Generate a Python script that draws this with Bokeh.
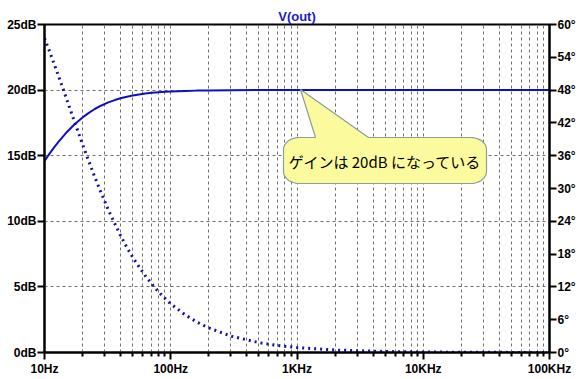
from bokeh.plotting import figure
from bokeh.models import (Range1d, LinearAxis, FixedTicker, ColumnDataSource)
from bokeh.core.properties import value
from bokeh.embed import file_html
from bokeh.resources import INLINE
import numpy as np

# ---- data ----
freq_hz = [10, 11, 12, 13, 14, 15, 17, 20, 22, 25, 28, 32, 36, 40, 45, 50, 56, 63,
           71, 80, 90, 100, 130, 160, 200, 300, 500, 700, 1000, 2000, 5000, 10000,
           30000, 100000]
gain_db = [14.60, 15.18, 15.67, 16.09, 16.46, 16.79, 17.32, 17.91, 18.21, 18.56, 18.81,
           19.06, 19.24, 19.38, 19.50, 19.59, 19.67, 19.74, 19.79, 19.84, 19.87, 19.89,
           19.94, 19.96, 19.97, 19.99, 20.0, 20.0, 20.0, 20.0, 20.0, 20.0, 20.0, 20.0]
phase_deg = [57.5, 55.0, 52.6, 50.4, 48.3, 46.3, 42.7, 38.1, 35.5, 32.1, 29.3, 26.1,
             23.6, 21.4, 19.2, 17.4, 15.7, 14.0, 12.5, 11.1, 9.9, 8.9, 6.9, 5.6, 4.5,
             3.0, 1.8, 1.28, 0.9, 0.45, 0.18, 0.09, 0.03, 0.01]

x_major = [10, 100, 1000, 10000, 100000]
x_labels = ["10Hz", "100Hz", "1KHz", "10KHz", "100KHz"]
y_left_ticks = [0, 5, 10, 15, 20, 25]
y_right_ticks = [0, 6, 12, 18, 24, 30, 36, 42, 48, 54, 60]
title_text = "V(out)"
note_text = "ゲインは 20dB になっている"

# ---- layout ----
W, H = 585, 379
L, R, T, B = 44, 36, 24, 27
FW, FH = W - L - R, H - T - B

p = figure(width=W, height=H, x_axis_type="log", x_range=Range1d(10, 100000),
           y_range=Range1d(0, 25), output_backend="svg", toolbar_location=None,
           min_border_left=L, min_border_right=R, min_border_top=T, min_border_bottom=B,
           background_fill_color="white", border_fill_color="white")
p.extra_y_ranges = {"deg": Range1d(0, 60)}

p.title.text = title_text
p.title.align = "center"
p.title.text_color = "#1a1ad0"
p.title.text_font = "Liberation Sans"
p.title.text_font_size = "13px"
p.title.text_font_style = "bold"
p.title.standoff = 2

p.outline_line_color = "black"
p.outline_line_width = 2

minor = [m * d for d in [10, 100, 1000, 10000] for m in range(2, 10)]
xa = p.xaxis[0]
xa.ticker = FixedTicker(ticks=x_major, minor_ticks=minor)
xa.major_label_overrides = {v: s for v, s in zip(x_major, x_labels)}
ya = p.yaxis[0]
ya.ticker = FixedTicker(ticks=y_left_ticks, minor_ticks=[])
ya.major_label_overrides = {v: f"{v}dB" for v in y_left_ticks}

ra = LinearAxis(y_range_name="deg", ticker=FixedTicker(ticks=y_right_ticks, minor_ticks=[]))
ra.major_label_overrides = {v: f"{v}°" for v in y_right_ticks}
p.add_layout(ra, "right")

for ax in [xa, ya, ra]:
    ax.axis_line_width = 2
    ax.axis_line_color = "black"
    ax.major_tick_line_color = "black"
    ax.major_tick_line_width = 2
    ax.major_tick_in = 0
    ax.major_tick_out = 7
    ax.minor_tick_line_color = "black"
    ax.minor_tick_line_width = 2
    ax.minor_tick_in = 0
    ax.minor_tick_out = 4
    ax.major_label_text_font = "Liberation Sans"
    ax.major_label_text_font_size = "12px"
    ax.major_label_text_font_style = "bold"
    ax.major_label_text_color = "black"
    ax.major_label_standoff = 1
xa.major_label_standoff = 2

p.xgrid.grid_line_color = "#707070"
p.xgrid.grid_line_dash = "3 3"
p.xgrid.grid_line_width = 1
p.xgrid.minor_grid_line_color = "#707070"
p.xgrid.minor_grid_line_dash = "3 3"
p.xgrid.minor_grid_line_width = 1
p.ygrid.grid_line_color = "#707070"
p.ygrid.grid_line_dash = "3 3"
p.ygrid.grid_line_width = 1

src = ColumnDataSource(dict(f=freq_hz, g=gain_db, ph=phase_deg))
p.line("f", "ph", source=src, y_range_name="deg", line_color="#1010a8",
       line_width=3, line_dash="2 4")
p.line("f", "g", source=src, line_color="#1010c0", line_width=2)

# ---- callout (defined in pixel space, converted to data coordinates) ----
def px2x(px):
    return 10 ** (1 + 4 * (px - L) / FW)

def py2y(py):
    return 25 * (T + FH - py) / FH

x0, x1, y0, y1 = 283, 486, 137, 183
rx, ry = 16, 12
apex = (300, 89)
b1, b2 = 315, 368
pts = []
def arc(cx, cy, a0, a1, n=10):
    out = []
    for a in np.linspace(a0, a1, n):
        out.append((cx + rx * np.cos(a), cy - ry * np.sin(a)))
    return out
pts += arc(x0 + rx, y0 + ry, np.pi, np.pi / 2)
pts += [(b1, y0), apex, (b2, y0)]
pts += arc(x1 - rx, y0 + ry, np.pi / 2, 0)
pts += arc(x1 - rx, y1 - ry, 0, -np.pi / 2)
pts += arc(x0 + rx, y1 - ry, -np.pi / 2, -np.pi)
cx_ = [px2x(a) for a, b in pts]
cy_ = [py2y(b) for a, b in pts]
p.patch(cx_, cy_, fill_color="#fbfb9e", line_color="#8a9e9a", line_width=1.2)
p.text(x=[px2x((x0 + x1) / 2)], y=[py2y((y0 + y1) / 2 + 1)], text=[note_text],
       text_font=value("Noto Sans CJK JP"), text_font_size="15px", text_color="black",
       text_align="center", text_baseline="middle")

open("out.html", "w").write(file_html(p, INLINE))
